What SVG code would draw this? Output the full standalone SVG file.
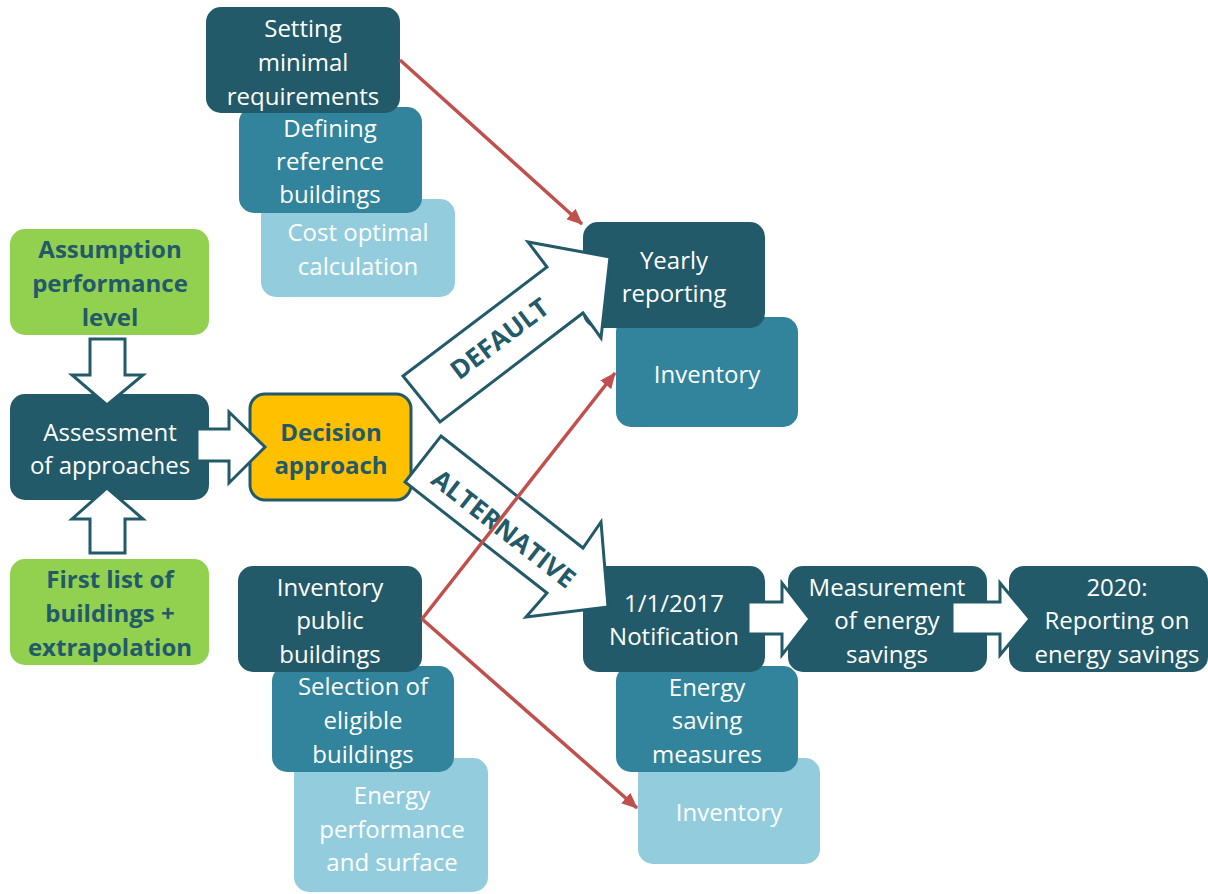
<svg xmlns="http://www.w3.org/2000/svg" width="1208" height="894" viewBox="0 0 1208 894">
<defs>
<style>
.dk{fill:#225a69}
.md{fill:#31849b}
.lt{fill:#93cddd}
.gr{fill:#92d050}
.dec{fill:#ffc000;stroke:#225a69;stroke-width:3}
text{font-family:"Open Sans","Noto Sans",sans-serif;font-size:24px;text-anchor:middle}
.w{fill:#ffffff}
.b{fill:#225a69;font-weight:bold}
.blk{fill:#ffffff;stroke:#225a69;stroke-width:3;stroke-linejoin:miter}
.red{stroke:#c0504d;stroke-width:3.5;fill:none;marker-end:url(#ah)}
.lbl{fill:#225a69;font-weight:bold;font-size:26px}
</style>
<marker id="ah" markerUnits="userSpaceOnUse" markerWidth="16" markerHeight="14" viewBox="0 0 16 14" refX="15" refY="7" orient="auto">
<path d="M0,0 L16,7 L0,14 z" fill="#c0504d"/>
</marker>
</defs>
<rect width="1208" height="894" fill="#ffffff"/>

<g id="cost-optimal">
<rect class="lt" x="261" y="199" width="194" height="98" rx="15"/>
<text class="w"><tspan x="358" y="241">Cost optimal</tspan><tspan x="358" y="275">calculation</tspan></text>
</g>
<g id="defining-reference">
<rect class="md" x="239" y="107" width="183" height="106" rx="15"/>
<text class="w"><tspan x="330" y="137">Defining</tspan><tspan x="330" y="170">reference</tspan><tspan x="330" y="203">buildings</tspan></text>
</g>
<g id="setting-minimal">
<rect class="dk" x="206" y="7" width="194" height="106" rx="15"/>
<text class="w"><tspan x="303" y="37">Setting</tspan><tspan x="303" y="71">minimal</tspan><tspan x="303" y="105">requirements</tspan></text>
</g>

<g id="assumption">
<rect class="gr" x="10" y="229" width="199" height="106" rx="15"/>
<text class="b"><tspan x="110" y="258">Assumption</tspan><tspan x="110" y="292">performance</tspan><tspan x="110" y="326">level</tspan></text>
</g>
<g id="assessment">
<rect class="dk" x="10" y="394" width="199" height="106" rx="15"/>
<text class="w"><tspan x="110" y="441">Assessment</tspan><tspan x="110" y="474">of approaches</tspan></text>
</g>
<g id="first-list">
<rect class="gr" x="10" y="559" width="199" height="106" rx="15"/>
<text class="b"><tspan x="110" y="588">First list of</tspan><tspan x="110" y="622">buildings +</tspan><tspan x="110" y="656">extrapolation</tspan></text>
</g>
<g id="decision">
<rect class="dec" x="250" y="394" width="161" height="106" rx="15"/>
<text class="b"><tspan x="331" y="441">Decision</tspan><tspan x="331" y="474">approach</tspan></text>
</g>

<g id="inventory-default">
<rect class="md" x="616" y="317" width="182" height="110" rx="15"/>
<text class="w" x="707" y="383">Inventory</text>
</g>
<g id="yearly-reporting">
<rect class="dk" x="583" y="222" width="182" height="106" rx="15"/>
<text class="w"><tspan x="674" y="269">Yearly</tspan><tspan x="674" y="302">reporting</tspan></text>
</g>

<g id="energy-performance">
<rect class="lt" x="294" y="758" width="194" height="134" rx="15"/>
<text class="w"><tspan x="392" y="804">Energy</tspan><tspan x="392" y="838">performance</tspan><tspan x="392" y="871">and surface</tspan></text>
</g>
<g id="selection-eligible">
<rect class="md" x="272" y="666" width="182" height="106" rx="15"/>
<text class="w"><tspan x="363" y="695">Selection of</tspan><tspan x="363" y="729">eligible</tspan><tspan x="363" y="763">buildings</tspan></text>
</g>
<g id="inventory-public">
<rect class="dk" x="238" y="566" width="184" height="106" rx="15"/>
<text class="w"><tspan x="330" y="596">Inventory</tspan><tspan x="330" y="629">public</tspan><tspan x="330" y="663">buildings</tspan></text>
</g>

<g id="inventory-alternative">
<rect class="lt" x="638" y="758" width="182" height="106" rx="15"/>
<text class="w" x="729" y="821">Inventory</text>
</g>
<g id="energy-saving-measures">
<rect class="md" x="616" y="666" width="182" height="106" rx="15"/>
<text class="w"><tspan x="707" y="696">Energy</tspan><tspan x="707" y="729">saving</tspan><tspan x="707" y="763">measures</tspan></text>
</g>
<g id="notification">
<rect class="dk" x="583" y="566" width="182" height="106" rx="15"/>
<text class="w"><tspan x="674" y="612">1/1/2017</tspan><tspan x="674" y="645">Notification</tspan></text>
</g>
<g id="measurement">
<rect class="dk" x="788" y="566" width="199" height="106" rx="15"/>
<text class="w"><tspan x="887" y="596">Measurement</tspan><tspan x="887" y="629">of energy</tspan><tspan x="887" y="663">savings</tspan></text>
</g>
<g id="reporting-2020">
<rect class="dk" x="1009" y="566" width="199" height="106" rx="15"/>
<text class="w"><tspan x="1117" y="596">2020:</tspan><tspan x="1117" y="629">Reporting on</tspan><tspan x="1117" y="663">energy savings</tspan></text>
</g>

<g id="connectors">
<polygon class="blk" points="90,339 125,339 125,375 143,375 107,405 72,375 90,375"/>
<polygon class="blk" points="90,553 125,553 125,519 143,519 107,488 72,519 90,519"/>
<polygon class="blk" points="197,429 229,429 229,412 265,447 229,483 229,461 197,461"/>
<polygon class="blk" points="403,376 547,267 528,242 610,257 601,338 583,313 440,422"/>
<text class="lbl" transform="translate(505,346) rotate(-37)">DEFAULT</text>
<polygon class="blk" points="441,436 583,548 601,522 608,607 526,617 547,593 405,482"/>
<text class="lbl" transform="translate(498,536) rotate(38)">ALTERNATIVE</text>
<polygon class="blk" points="748,602 782,602 782,583 810,619 782,655 782,634 748,634"/>
<polygon class="blk" points="952,602 1000,602 1000,583 1030,619 1000,655 1000,634 952,634"/>
<line class="red" x1="400" y1="60" x2="582" y2="224"/>
<line class="red" x1="422" y1="619" x2="615" y2="373"/>
<line class="red" x1="422" y1="619" x2="637" y2="808"/>
</g>
</svg>
